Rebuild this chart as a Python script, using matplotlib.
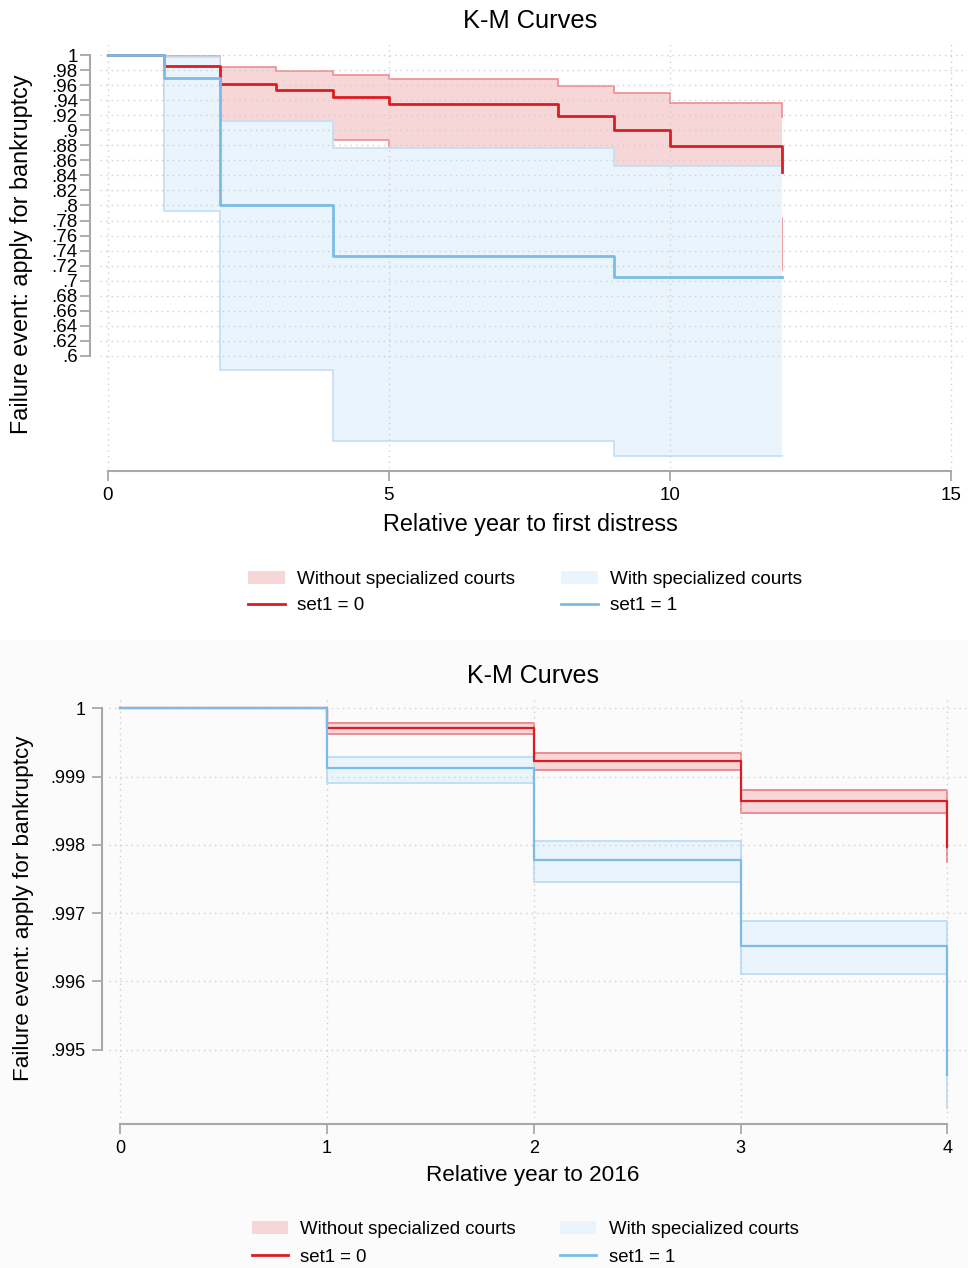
import matplotlib.pyplot as plt
from matplotlib.patches import Patch, Rectangle
from matplotlib.lines import Line2D
import numpy as np

plt.rcParams['font.family'] = ['Liberation Sans', 'DejaVu Sans']

# top panel: relative year to first distress (last time repeated for the final drop)
top_t0 = [0, 1, 2, 3, 4, 5, 8, 9, 10, 12, 12]
top_s0 = [1, .986, .962, .9535, .9446, .935, .919, .901, .879, .879, .844]
top_hi0 = [1, .9987, .9845, .979, .974, .9677, .9588, .949, .9366, .9366, .918]
top_lo0 = [1, .94, .905, .896, .887, .862, .84, .815, .783, .783, .714]

top_t1 = [0, 1, 2, 4, 9, 12]
top_s1 = [1, .969, .80, .733, .7055, .7055]
top_hi1 = [1, .997, .912, .876, .8525, .8525]
top_lo1 = [1, .7927, .5814, .4875, .467, .467]

# bottom panel: relative year to 2016
bot_t = [0, 1, 2, 3, 4, 4]
bot_s0 = [1, .999707, .999229, .998643, .998643, .997975]
bot_hi0 = [1, .99978, .99935, .998804, .998804, .9982]
bot_lo0 = [1, .99962, .999097, .998463, .998463, .997755]
bot_s1 = [1, .999122, .99778, .996522, .996522, .994634]
bot_hi1 = [1, .999292, .998058, .996878, .996878, .9955]
bot_lo1 = [1, .998911, .997463, .996112, .996112, .994146]

top_yticks = np.round(np.arange(0.6, 1.0001, 0.02), 2)
bot_yticks = [0.995, 0.996, 0.997, 0.998, 0.999, 1.0]

legend_labels = ['Without specialized courts', 'set1 = 0',
                 'With specialized courts', 'set1 = 1']

RED = '#dc1c22'
RED_FILL = '#f7d6d8'
RED_CI = '#ec8d92'
BLUE = '#7cbbe5'
BLUE_FILL = '#eaf4fc'
BLUE_CI = '#c3def3'
AXC = '#a8a8a8'
GRIDC = '#cfcfcf'
W, H = 968, 1268


def stata_label(v):
    if abs(v - round(v)) < 1e-9:
        return str(int(round(v)))
    s = ('%.4f' % v).rstrip('0')
    return s[1:] if s.startswith('0') else s


def km_panel(ax, t0, s0, lo0, hi0, t1, s1, lo1, hi1, lw_main, lw_ci):
    ax.fill_between(t0, lo0, hi0, step='post', color=RED_FILL, lw=0, zorder=1)
    ax.step(t0, hi0, where='post', color=RED_CI, lw=lw_ci, zorder=1.1)
    ax.step(t0, lo0, where='post', color=RED_CI, lw=lw_ci, zorder=1.1)
    ax.fill_between(t1, lo1, hi1, step='post', color=BLUE_FILL, lw=0, zorder=1.2)
    ax.step(t1, hi1, where='post', color=BLUE_CI, lw=lw_ci, zorder=1.3)
    ax.step(t1, lo1, where='post', color=BLUE_CI, lw=lw_ci, zorder=1.3)
    ax.step(t0, s0, where='post', color=RED, lw=lw_main, zorder=2)
    ax.step(t1, s1, where='post', color=BLUE, lw=lw_main, zorder=2.1)


def style_axes(ax, xticks, yticks, out_x, out_y, fs):
    ax.set_facecolor('none')
    for s in ['top', 'right']:
        ax.spines[s].set_visible(False)
    ax.spines['left'].set_position(('outward', out_y))
    ax.spines['bottom'].set_position(('outward', out_x))
    ax.spines['left'].set_bounds(min(yticks), max(yticks))
    ax.spines['bottom'].set_bounds(min(xticks), max(xticks))
    for s in ['left', 'bottom']:
        ax.spines[s].set_color(AXC)
        ax.spines[s].set_linewidth(1.5)
    ax.set_xticks(xticks)
    ax.set_xticklabels([stata_label(v) for v in xticks])
    ax.set_yticks(yticks)
    ax.set_yticklabels([stata_label(v) for v in yticks])
    ax.tick_params(axis='both', length=7, width=1.3, color=AXC, labelsize=fs)
    ax.tick_params(axis='y', pad=2)
    ax.tick_params(axis='x', pad=5)
    ax.grid(True, color=GRIDC, lw=1.0, linestyle=(0, (1, 3)), zorder=0)


fig = plt.figure(figsize=(W / 100, H / 100), dpi=100)
fig.patches.append(Rectangle((0, 0), 1, 1 - 640 / H, transform=fig.transFigure,
                             color='#fbfbfb', zorder=-10))

# ---- top panel
ax1 = fig.add_axes([100 / W, 1 - 468 / H, 865 / W, 425 / H])
km_panel(ax1, top_t0, top_s0, top_lo0, top_hi0,
         top_t1, top_s1, top_lo1, top_hi1, 2.0, 1.2)
ax1.set_xlim(-0.14, 15.25)
ax1.set_ylim(0.451, 1.016)
style_axes(ax1, [0, 5, 10, 15], top_yticks, 2, 7, 13.5)
fig.text(530 / W, 1 - 21 / H, 'K-M Curves', ha='center', va='center', fontsize=18.3)
fig.text(22 / W, 1 - 254 / H, 'Failure event: apply for bankruptcy', rotation=90,
         ha='center', va='center', fontsize=16.8)
fig.text(530 / W, 1 - 525 / H, 'Relative year to first distress',
         ha='center', va='center', fontsize=16.8)

# ---- bottom panel
ax2 = fig.add_axes([109 / W, 1 - 1118 / H, 857 / W, 421 / H])
km_panel(ax2, bot_t, bot_s0, bot_lo0, bot_hi0,
         bot_t, bot_s1, bot_lo1, bot_hi1, 1.6, 1.4)
ax2.set_xlim(-0.053, 4.09)
ax2.set_ylim(0.994, 1.000165)
style_axes(ax2, [0, 1, 2, 3, 4], bot_yticks, 4, 5, 13)
ax2.tick_params(axis='y', pad=5)
fig.text(533 / W, 1 - 676 / H, 'K-M Curves', ha='center', va='center', fontsize=18)
fig.text(24 / W, 1 - 908 / H, 'Failure event: apply for bankruptcy', rotation=90,
         ha='center', va='center', fontsize=16.2)
fig.text(533 / W, 1 - 1176 / H, 'Relative year to 2016',
         ha='center', va='center', fontsize=16.2)

# ---- legends
handles = [Patch(facecolor=RED_FILL, edgecolor='none'),
           Line2D([], [], color=RED, lw=2),
           Patch(facecolor=BLUE_FILL, edgecolor='none'),
           Line2D([], [], color=BLUE, lw=2)]
for cy, fs, sp in [(592.5, 13.6, 0.48), (1243.5, 13.4, 0.58)]:
    fig.legend(handles, legend_labels, loc='center', ncol=2, frameon=False,
               bbox_to_anchor=(525 / W, 1 - cy / H), fontsize=fs,
               handlelength=1.95, handletextpad=0.65, columnspacing=2.4,
               labelspacing=sp)

fig.savefig('out.png', dpi=100)
